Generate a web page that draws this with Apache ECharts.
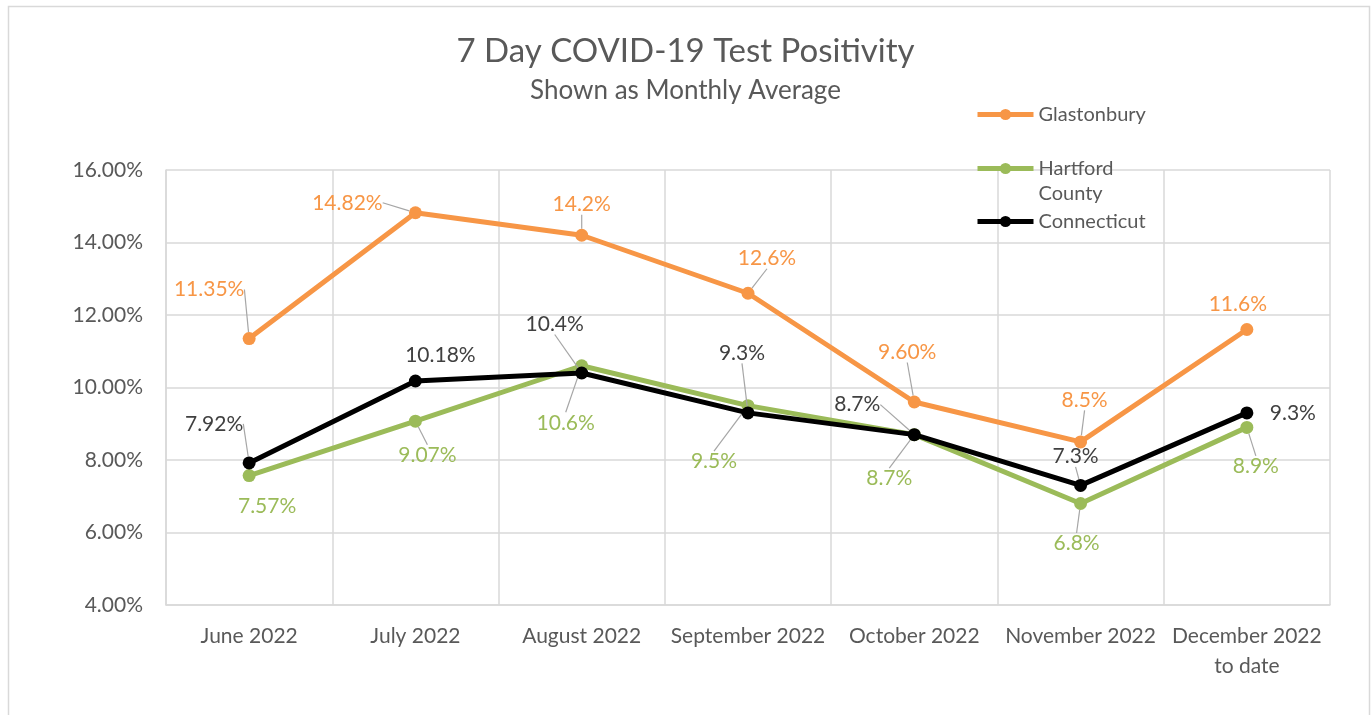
<!DOCTYPE html>
<html>
<head>
<meta charset="utf-8">
<script src="https://cdn.jsdelivr.net/npm/echarts@6/dist/echarts.min.js"></script>
<style>
html,body{margin:0;padding:0;background:#fff;}
#chart{width:1371px;height:715px;}
</style>
</head>
<body>
<div id="chart"></div>
<script>
// ---- data ----
const categories = ['June 2022', 'July 2022', 'August 2022', 'September 2022', 'October 2022', 'November 2022', 'December 2022\nto date'];
const glastonbury = [11.35, 14.82, 14.2, 12.6, 9.60, 8.5, 11.6];
const glastonburyLabels = ['11.35%', '14.82%', '14.2%', '12.6%', '9.60%', '8.5%', '11.6%'];
const hartford = [7.57, 9.07, 10.6, 9.5, 8.7, 6.8, 8.9];
const hartfordLabels = ['7.57%', '9.07%', '10.6%', '9.5%', '8.7%', '6.8%', '8.9%'];
const connecticut = [7.92, 10.18, 10.4, 9.3, 8.7, 7.3, 9.3];
const connecticutLabels = ['7.92%', '10.18%', '10.4%', '9.3%', '8.7%', '7.3%', '9.3%'];
const yTicks = {min: 4, max: 16, step: 2};

// ---- label layout (offsets of label centre from point, and whether a leader line is drawn) ----
const labelOffsets = [
  [[-40,-49],[-68,-10],[0,-31],[19,-35],[-7,-50],[4,-42],[-9,-25]],   // Glastonbury
  [[18,31],[12,34],[-16,57],[-34,56],[-25,44],[-4,40],[9,39]],         // Hartford
  [[-35,-39],[25,-26],[-27,-49],[-6,-60],[-57,-30],[-5,-29],[46,0]]    // Connecticut
];
const leaderShown = [
  [true, true, true, true, true, true, false],
  [false, true, true, true, true, true, true],
  [true, false, true, true, true, true, false]
];

const FONT = 'Lato';
const colors = ['#F79646', '#9BBB59', '#000000'];
const labelColors = ['#F79646', '#9BBB59', '#404040'];

function buildSeries(name, values, labels, idx) {
  return {
    name: name,
    type: 'line',
    data: values.map((v, i) => ({
      value: v,
      labelLine: {show: leaderShown[idx][i]}
    })),
    symbol: 'circle',
    symbolSize: 13,
    lineStyle: {width: 5, color: colors[idx]},
    itemStyle: {color: colors[idx]},
    z: idx === 2 ? 4 : (idx === 1 ? 3 : 2),
    label: {
      show: true,
      position: 'inside',
      formatter: p => labels[p.dataIndex],
      color: labelColors[idx],
      fontFamily: FONT,
      fontSize: 21
    },
    labelLine: {show: true, lineStyle: {color: '#a6a6a6', width: 1.2}},
    labelLayout: function (p) {
      const o = labelOffsets[idx][p.dataIndex];
      return {dx: o[0], dy: o[1]};
    },
    emphasis: {disabled: true},
    animation: false
  };
}

const legendText = {fontFamily: FONT, fontSize: 20, color: '#595959', lineHeight: 25};
const legendBase = {left: 975, padding: 0, itemWidth: 56, itemHeight: 14, itemGap: 0,
  lineStyle: {width: 5}, textStyle: legendText};

const chart = echarts.init(document.getElementById('chart'), null, {renderer: 'canvas'});
chart.setOption({
  backgroundColor: '#fff',
  animation: false,
  title: {
    text: '7 Day COVID-19 Test Positivity',
    subtext: 'Shown as Monthly Average',
    left: 'center',
    top: 30,
    itemGap: 10,
    textStyle: {fontFamily: FONT, fontSize: 33, fontWeight: 'normal', color: '#595959'},
    subtextStyle: {fontFamily: FONT, fontSize: 26, color: '#595959'}
  },
  graphic: [{
    type: 'rect',
    shape: {x: 8.5, y: 6.5, width: 1361, height: 800},
    style: {fill: 'none', stroke: '#d9d9d9', lineWidth: 1.5},
    silent: true
  }],
  legend: [
    Object.assign({}, legendBase, {data: ['Glastonbury'], top: 102}),
    Object.assign({}, legendBase, {data: ['Hartford County'], top: 131,
      formatter: () => '\nHartford\nCounty'}),
    Object.assign({}, legendBase, {data: ['Connecticut'], top: 209})
  ],
  grid: {left: 166, right: 41, top: 170, bottom: 110, containLabel: false},
  xAxis: {
    type: 'category',
    data: categories,
    boundaryGap: true,
    axisLine: {show: true, lineStyle: {color: '#d9d9d9', width: 1.5}},
    axisTick: {show: false},
    splitLine: {show: true, lineStyle: {color: '#d9d9d9', width: 1.5}},
    axisLabel: {fontFamily: FONT, fontSize: 21, color: '#595959', margin: 16, lineHeight: 30, interval: 0}
  },
  yAxis: {
    type: 'value',
    min: yTicks.min,
    max: yTicks.max,
    interval: yTicks.step,
    axisLine: {show: true, lineStyle: {color: '#d9d9d9', width: 1.5}},
    axisTick: {show: false},
    splitLine: {show: true, lineStyle: {color: '#d9d9d9', width: 1.5}},
    axisLabel: {fontFamily: FONT, fontSize: 21, color: '#595959', margin: 23, formatter: v => v.toFixed(2) + '%'}
  },
  series: [
    buildSeries('Glastonbury', glastonbury, glastonburyLabels, 0),
    buildSeries('Hartford County', hartford, hartfordLabels, 1),
    buildSeries('Connecticut', connecticut, connecticutLabels, 2)
  ]
});
</script>
</body>
</html>
